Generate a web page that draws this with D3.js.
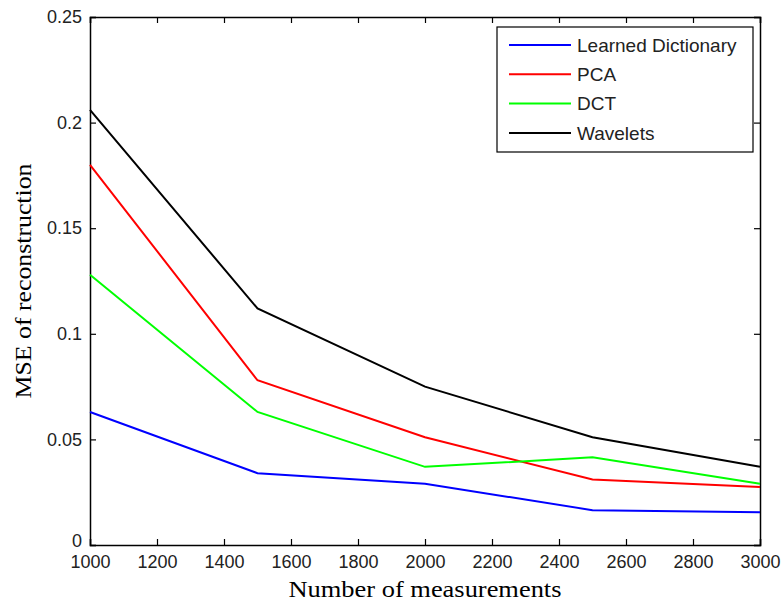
<!DOCTYPE html>
<html>
<head>
<meta charset="utf-8">
<script src="https://cdn.jsdelivr.net/npm/d3@7"></script>
<style>
  body { margin: 0; background: #fff; }
</style>
</head>
<body>
<div id="chart"></div>
<script>
var vWidth = 784;
var vHeight = 603;

// data
var measurements = [1000, 1500, 2000, 2500, 3000];
var learnedDict = [0.063, 0.034, 0.029, 0.0165, 0.0155];
var pca = [0.180, 0.078, 0.051, 0.031, 0.0275];
var dct = [0.128, 0.063, 0.037, 0.0415, 0.029];
var wavelets = [0.206, 0.112, 0.075, 0.051, 0.037];
var seriesNames = ["Learned Dictionary", "PCA", "DCT", "Wavelets"];
var seriesColors = ["#0000ff", "#ff0000", "#00ff00", "#000000"];
var xTicks = [1000, 1200, 1400, 1600, 1800, 2000, 2200, 2400, 2600, 2800, 3000];
var yTicks = [0, 0.05, 0.1, 0.15, 0.2, 0.25];

var allSeries = [learnedDict, pca, dct, wavelets];

var margin = { left: 90, right: 24, top: 17, bottom: 58 };

var svg = d3.select("#chart")
    .append("svg")
    .attr("width", vWidth)
    .attr("height", vHeight);

var x = d3.scaleLinear().domain([1000, 3000]).range([margin.left, vWidth - margin.right]);
var y = d3.scaleLinear().domain([0, 0.25]).range([vHeight - margin.bottom, margin.top]);

var tickFont = "Liberation Sans, Arial, sans-serif";
var labelFont = "Liberation Serif, Times New Roman, serif";

// axes with inward ticks
svg.append("g")
    .attr("transform", "translate(0," + y(0) + ")")
    .call(d3.axisBottom(x).tickValues(xTicks).tickSize(-6).tickPadding(10).tickFormat(d3.format("d")));

svg.append("g")
    .attr("transform", "translate(0," + y(0.25) + ")")
    .call(d3.axisTop(x).tickValues(xTicks).tickSize(-6).tickFormat(""));

var yAxis = svg.append("g")
    .attr("transform", "translate(" + x(1000) + ",0)")
    .call(d3.axisLeft(y).tickValues(yTicks).tickSize(-6).tickPadding(8).tickFormat(function (d) { return d === 0 ? "0" : String(d); }));

svg.append("g")
    .attr("transform", "translate(" + x(3000) + ",0)")
    .call(d3.axisRight(y).tickValues(yTicks).tickSize(-6).tickFormat(""));

svg.selectAll(".domain").attr("stroke", "#000").attr("stroke-width", 1.5);
svg.selectAll(".tick line").attr("stroke", "#000").attr("stroke-width", 1.2);
svg.selectAll(".tick text")
    .attr("fill", "#222")
    .style("font-family", tickFont)
    .style("font-size", "18px");

// nudge the "0" up a little so it clears the 1000 label
yAxis.selectAll(".tick text").filter(function (d) { return d === 0; }).attr("dy", "0.1em");

// lines
var line = d3.line()
    .x(function (d, i) { return x(measurements[i]); })
    .y(function (d) { return y(d); });

allSeries.forEach(function (s, i) {
    svg.append("path")
        .datum(s)
        .attr("fill", "none")
        .attr("stroke", seriesColors[i])
        .attr("stroke-width", 2)
        .attr("d", line);
});

// axis labels
svg.append("text")
    .attr("x", (x(1000) + x(3000)) / 2)
    .attr("y", 597)
    .attr("text-anchor", "middle")
    .attr("textLength", 273)
    .attr("lengthAdjust", "spacingAndGlyphs")
    .style("font-family", labelFont)
    .style("font-size", "23px")
    .text("Number of measurements");

svg.append("text")
    .attr("transform", "translate(31," + ((y(0) + y(0.25)) / 2) + ") rotate(-90)")
    .attr("text-anchor", "middle")
    .attr("textLength", 235)
    .attr("lengthAdjust", "spacingAndGlyphs")
    .style("font-family", labelFont)
    .style("font-size", "23px")
    .text("MSE of reconstruction");

// legend
var legend = svg.append("g").attr("transform", "translate(497,27)");
legend.append("rect")
    .attr("width", 256)
    .attr("height", 125)
    .attr("fill", "#fff")
    .attr("stroke", "#000")
    .attr("stroke-width", 1.2);

seriesNames.forEach(function (name, i) {
    var ly = 18 + i * 29.3;
    legend.append("line")
        .attr("x1", 12).attr("x2", 74)
        .attr("y1", ly).attr("y2", ly)
        .attr("stroke", seriesColors[i])
        .attr("stroke-width", 2);
    legend.append("text")
        .attr("x", 80)
        .attr("y", ly)
        .attr("dy", "0.35em")
        .attr("fill", "#222")
        .style("font-family", tickFont)
        .style("font-size", "19px")
        .text(name);
});
</script>
</body>
</html>
